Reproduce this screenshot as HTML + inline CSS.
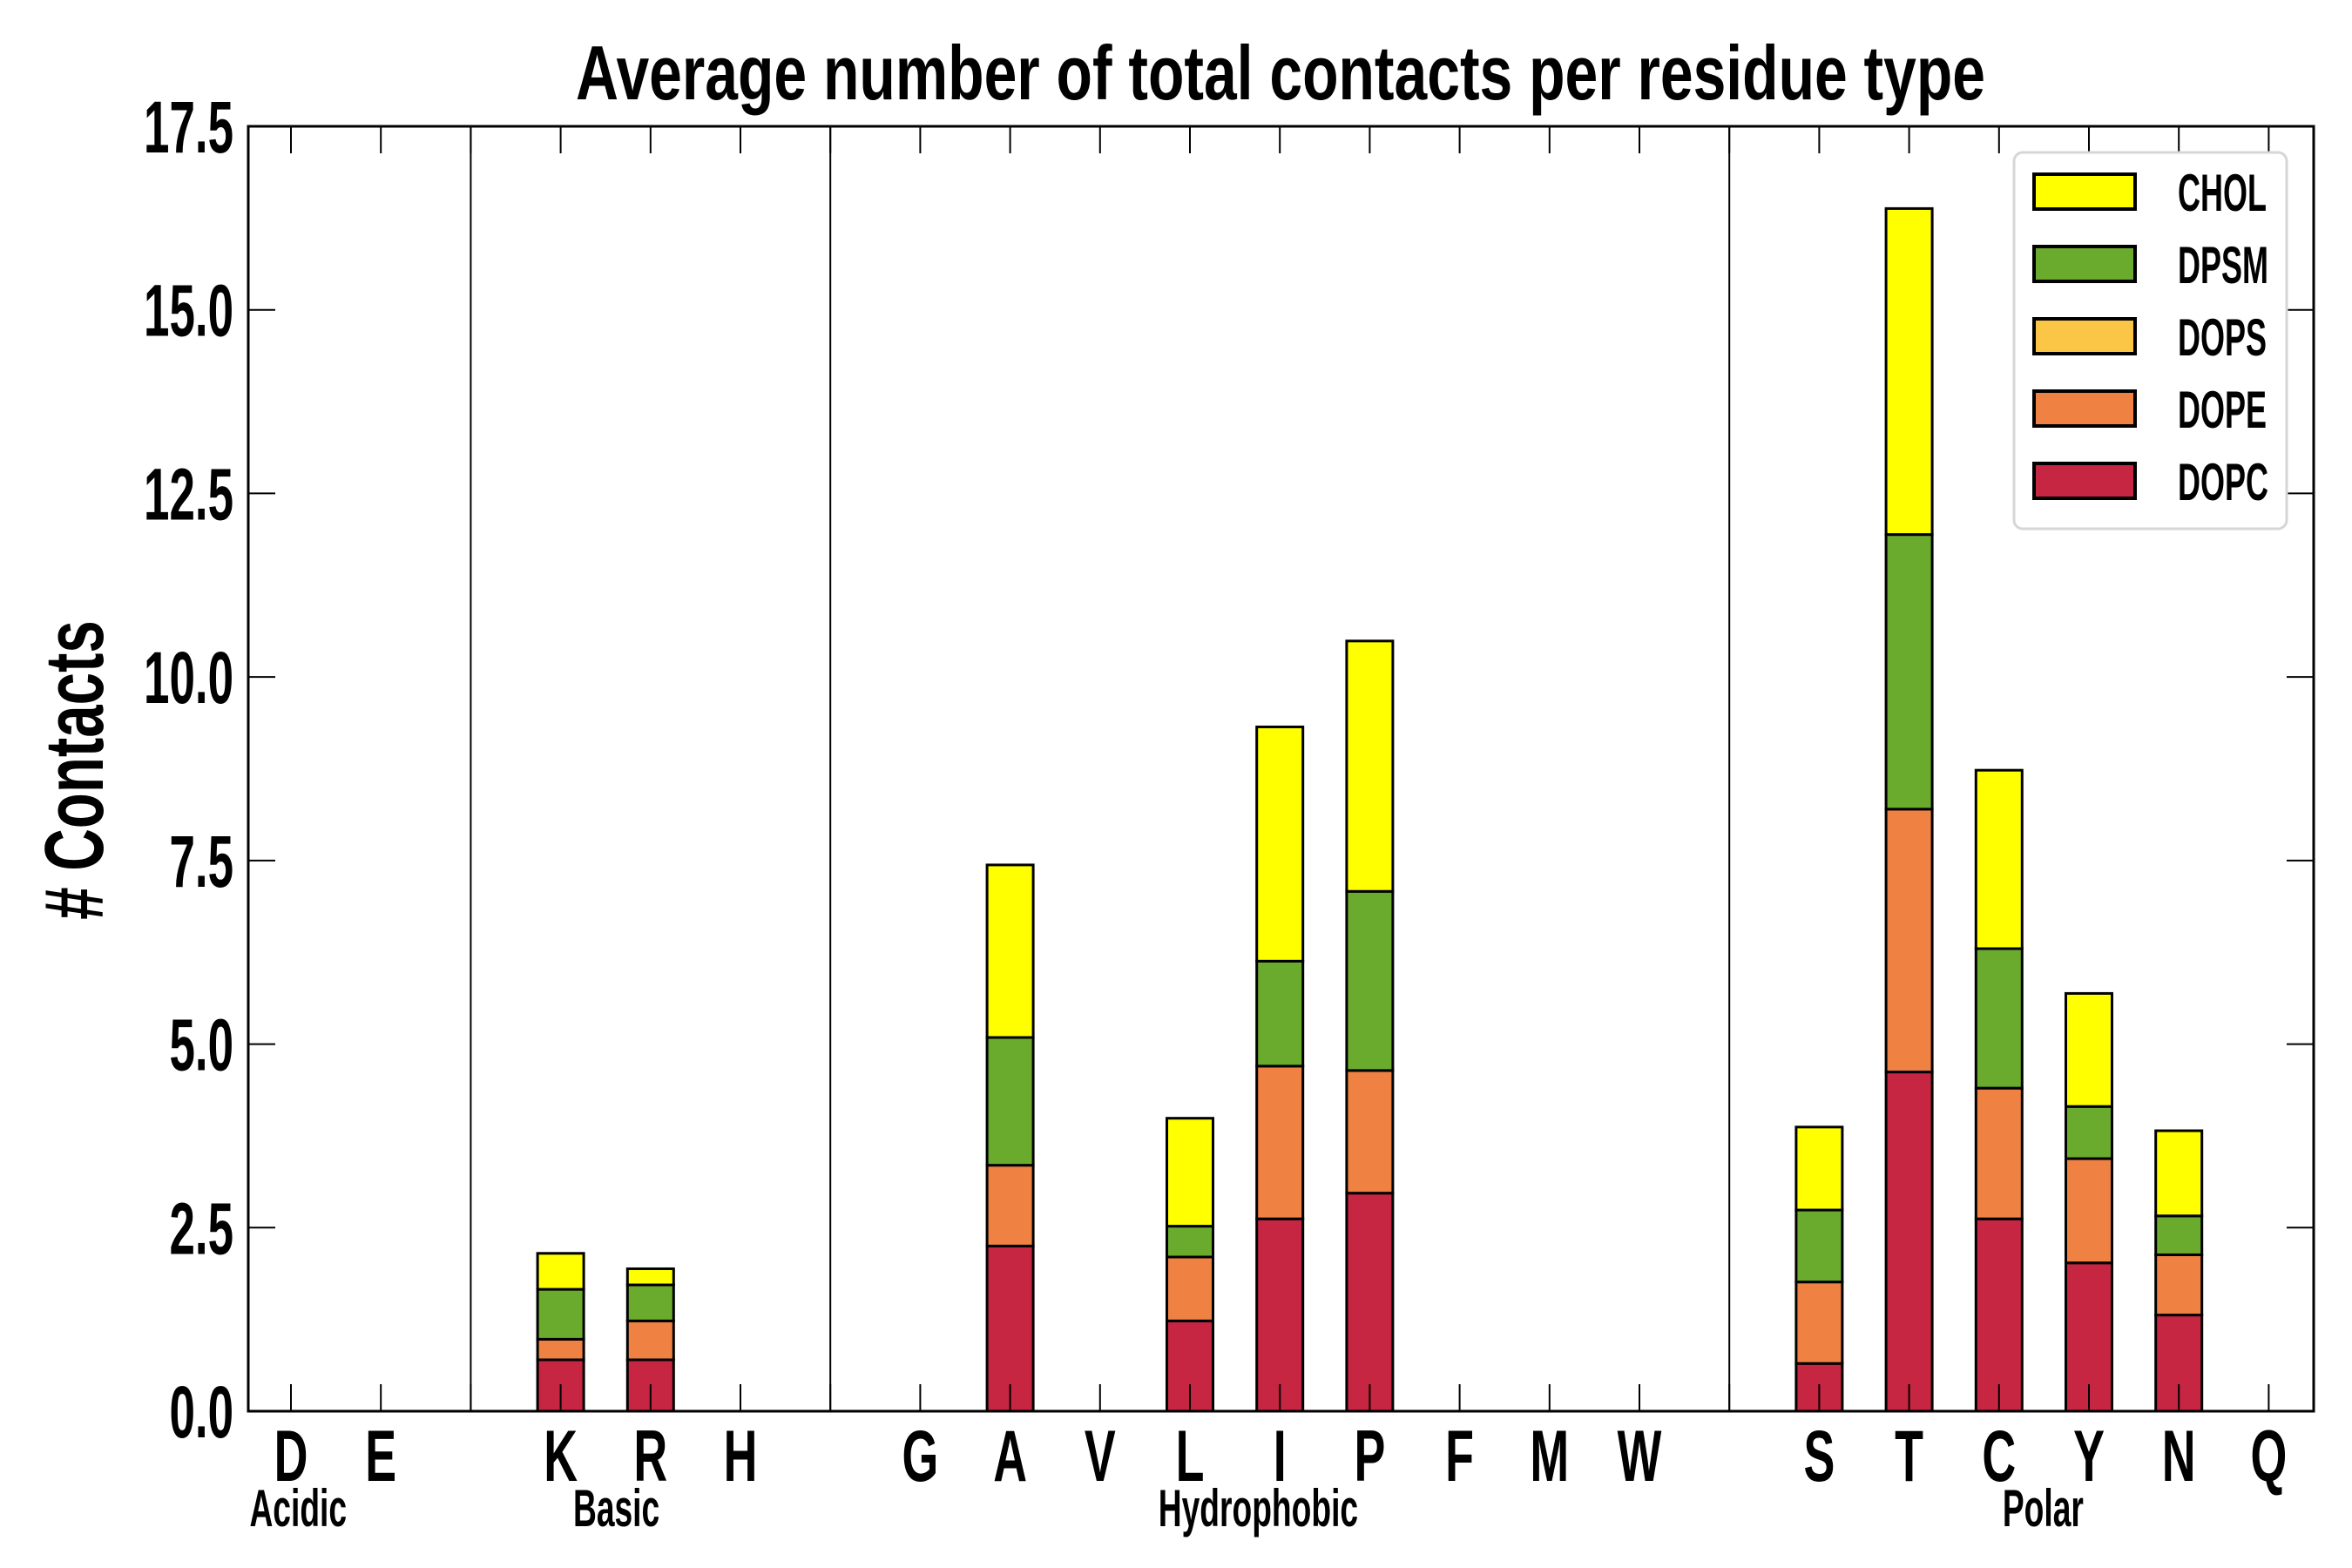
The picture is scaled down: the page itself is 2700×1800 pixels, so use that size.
<!DOCTYPE html>
<html><head><meta charset="utf-8">
<style>
html,body{margin:0;padding:0;background:#fff;}
svg{display:block;}
text{font-family:"Liberation Sans",sans-serif;font-weight:bold;fill:#000;}
</style></head>
<body>
<svg id="chart" width="2700" height="1800" viewBox="0 0 2700 1800" xmlns="http://www.w3.org/2000/svg">
<rect x="0" y="0" width="2700" height="1800" fill="#fff"/>
<text x="1470" y="114" font-size="88" text-anchor="middle" textLength="1618" lengthAdjust="spacingAndGlyphs">Average number of total contacts per residue type</text>
<text transform="translate(118,884) rotate(-90) scale(0.7,1)" font-size="96" text-anchor="middle"># Contacts</text>
<g id="plot"></g>
</svg>
<script>
const categories = ["D","E","","K","R","H","","G","A","V","L","I","P","F","M","W","","S","T","C","Y","N","Q"];
const seriesNames = ["DOPC","DOPE","DOPS","DPSM","CHOL"];
const dopc = [0,0,0,0.70,0.70,0,0,0,2.25,0,1.23,2.62,2.97,0,0,0,0,0.65,4.62,2.62,2.02,1.31,0];
const dope = [0,0,0,0.28,0.53,0,0,0,1.10,0,0.87,2.08,1.67,0,0,0,0,1.11,3.58,1.78,1.42,0.82,0];
const dops = [0,0,0,0,0,0,0,0,0,0,0,0,0,0,0,0,0,0,0,0,0,0,0];
const dpsm = [0,0,0,0.68,0.49,0,0,0,1.74,0,0.42,1.43,2.44,0,0,0,0,0.98,3.74,1.90,0.71,0.53,0];
const chol = [0,0,0,0.49,0.22,0,0,0,2.35,0,1.47,3.19,3.41,0,0,0,0,1.13,4.44,2.43,1.54,1.16,0];
const yTicks = [0,2.5,5,7.5,10,12.5,15,17.5];
const yTickLabels = ["0.0","2.5","5.0","7.5","10.0","12.5","15.0","17.5"];
const groupNames = ["Acidic","Basic","Hydrophobic","Polar"];
const groupCenters = [0.08,3.62,10.76,19.49];
const separators = [2,6,16];

const colors = ["#c62641","#ef8143","#fbc546","#6aab2d","#ffff00"];
const series = [dopc,dope,dops,dpsm,chol];
const L=285, R=2656, T=145, B=1620, ymax=17.5;
const x0=334, step=103.2, bw=53;
const xs = i => x0 + i*step;
const ys = v => B - v/ymax*(B-T);
const NS="http://www.w3.org/2000/svg";
const g=document.getElementById('plot');
function mk(tag, attrs){const e=document.createElementNS(NS,tag);for(const k in attrs)e.setAttribute(k,attrs[k]);g.appendChild(e);return e;}
function txt(x,y,size,sx,anchor,content){
  const t=mk('text',{transform:'translate('+x+','+y+') scale('+sx+',1)','font-size':size,'text-anchor':anchor});
  t.textContent=content;
  return t;
}

separators.forEach(s=>{
  const e=mk('line',{x1:xs(s),x2:xs(s),y1:T,y2:B,stroke:'#000','stroke-width':2});
  
  
});
categories.forEach((c,i)=>{
  let base=0;
  series.forEach((s,k)=>{
    const v=s[i];
    const r=mk('rect',{x:xs(i)-bw/2,y:ys(base+v),width:bw,height:Math.max(0,ys(base)-ys(base+v)),fill:colors[k],stroke:'#000','stroke-width':3});
    
    
    base+=v;
  });
});
const fr=mk('rect',{x:L,y:T,width:R-L,height:B-T,fill:'none',stroke:'#000','stroke-width':3});


categories.forEach((c,i)=>{
  const t1=mk('line',{x1:xs(i),x2:xs(i),y1:B,y2:B-31,stroke:'#000','stroke-width':2});
  
  
  const t2=mk('line',{x1:xs(i),x2:xs(i),y1:T,y2:T+31,stroke:'#000','stroke-width':2});
  
  
  if(c){
    const t=txt(xs(i),1700,84,0.64,'middle',c);
    
    
  }
});
yTicks.forEach((v,i)=>{
  const a=mk('line',{x1:L,x2:L+31,y1:ys(v),y2:ys(v),stroke:'#000','stroke-width':2});
  
  
  const b=mk('line',{x1:R,x2:R-31,y1:ys(v),y2:ys(v),stroke:'#000','stroke-width':2});
  
  
  const t=txt(268,ys(v)+30,84,0.63,'end',yTickLabels[i]);
  
  
});
groupNames.forEach((n,i)=>{
  const t=txt(xs(groupCenters[i]),1752,60,0.62,'middle',n);
  
  
});
const lg=mk('rect',{x:2312,y:175,width:313,height:432,rx:10,fill:'#fff',stroke:'#d6d6d6','stroke-width':3});


const legOrder=[4,3,2,1,0];
legOrder.forEach((k,j)=>{
  const y=200+j*83;
  const s=mk('rect',{x:2335,y:y,width:116,height:40,fill:colors[k],stroke:'#000','stroke-width':4});
  
  
  const t=txt(2500,y+42,60,0.6,'start',seriesNames[k]);
  
  
});
</script>
</body></html>
